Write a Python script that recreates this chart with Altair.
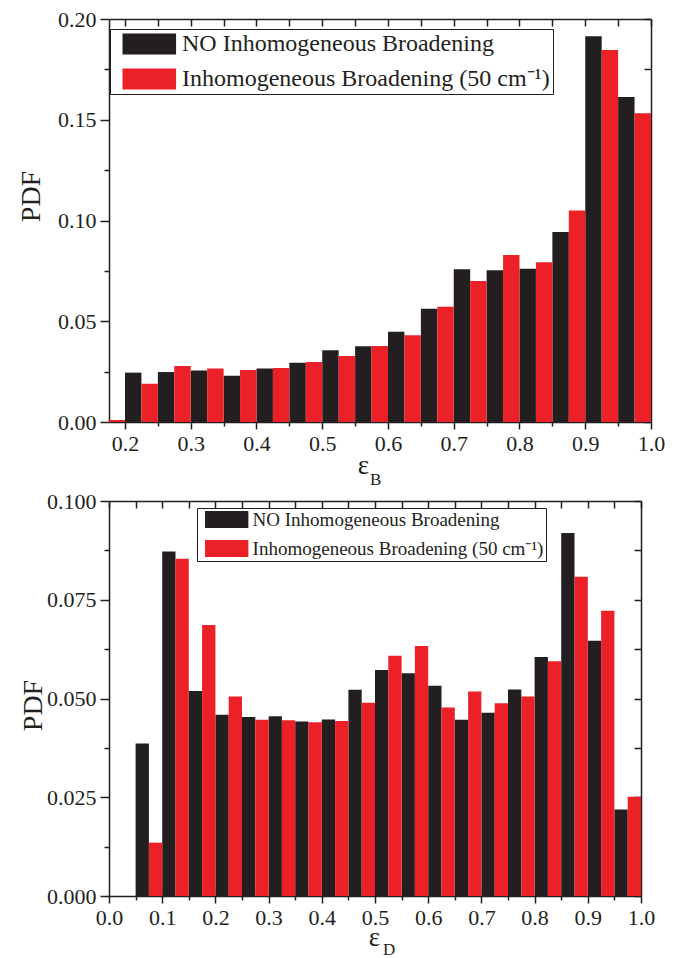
import altair as alt
import pandas as pd

BLACK = "#231f20"
RED = "#ec2027"
FONT = "Liberation Serif"
S1 = "NO Inhomogeneous Broadening"
S2 = "Inhomogeneous Broadening (50 cm⁻¹)"
BIN = 0.025

# ---- top panel (epsilon_B) ----
top_black_left = [0.20, 0.25, 0.30, 0.35, 0.40, 0.45, 0.50, 0.55, 0.60, 0.65,
                  0.70, 0.75, 0.80, 0.85, 0.90, 0.95]
top_black_vals = [0.0245, 0.0248, 0.0255, 0.0230, 0.0265, 0.0294, 0.0356, 0.0376,
                  0.0448, 0.0562, 0.0758, 0.0753, 0.0761, 0.0943, 0.1914, 0.1613]
top_red_left = [0.175, 0.225, 0.275, 0.325, 0.375, 0.425, 0.475, 0.525, 0.575,
                0.625, 0.675, 0.725, 0.775, 0.825, 0.875, 0.925, 0.975]
top_red_vals = [0.0010, 0.0190, 0.0278, 0.0266, 0.0258, 0.0268, 0.0298, 0.0328,
                0.0377, 0.0430, 0.0572, 0.0700, 0.0829, 0.0793, 0.1050, 0.1846, 0.1532]
top_x_ticks = [0.20, 0.25, 0.30, 0.35, 0.40, 0.45, 0.50, 0.55, 0.60, 0.65, 0.70,
               0.75, 0.80, 0.85, 0.90, 0.95, 1.00]
top_y_ticks = [0.0, 0.025, 0.05, 0.075, 0.10, 0.125, 0.15, 0.175, 0.20]

# ---- bottom panel (epsilon_D) ----
bot_black_left = [0.05, 0.10, 0.15, 0.20, 0.25, 0.30, 0.35, 0.40, 0.45, 0.50,
                  0.55, 0.60, 0.65, 0.70, 0.75, 0.80, 0.85, 0.90, 0.95]
bot_black_vals = [0.0386, 0.0872, 0.0519, 0.0459, 0.0453, 0.0455, 0.0442, 0.0447,
                  0.0522, 0.0572, 0.0564, 0.0532, 0.0446, 0.0464, 0.0523, 0.0605,
                  0.0919, 0.0646, 0.0219]
bot_red_left = [0.075, 0.125, 0.175, 0.225, 0.275, 0.325, 0.375, 0.425, 0.475,
                0.525, 0.575, 0.625, 0.675, 0.725, 0.775, 0.825, 0.875, 0.925, 0.975]
bot_red_vals = [0.0135, 0.0854, 0.0686, 0.0505, 0.0446, 0.0445, 0.0440, 0.0443,
                0.0489, 0.0608, 0.0633, 0.0477, 0.0518, 0.0488, 0.0505, 0.0594,
                0.0808, 0.0722, 0.0251]
bot_x_ticks = [0.0, 0.05, 0.10, 0.15, 0.20, 0.25, 0.30, 0.35, 0.40, 0.45, 0.50,
               0.55, 0.60, 0.65, 0.70, 0.75, 0.80, 0.85, 0.90, 0.95, 1.00]
bot_y_ticks = [0.0, 0.0125, 0.025, 0.0375, 0.05, 0.0625, 0.075, 0.0875, 0.10]

SWATCH = "M-2.55,-1H2.55V1H-2.55Z"


def make_df(bl, bv, rl, rv):
    rows = [{"x": l, "x2": l + BIN, "y": v, "s": S1} for l, v in zip(bl, bv)]
    rows += [{"x": l, "x2": l + BIN, "y": v, "s": S2} for l, v in zip(rl, rv)]
    return pd.DataFrame(rows)


def is_major(mult):
    return f"abs(datum.value*{mult} - round(datum.value*{mult})) < 0.001"


def panel(df, W, H, xdom, ydom, xticks, yticks, xmult, ymult, yfmt,
          legend, eps_title_x, eps_title_y, sub_text, sub_x, sub_y, pdf_x, pdf_y):
    xs = alt.Scale(domain=xdom, nice=False, zero=False)
    ys = alt.Scale(domain=ydom, nice=False)
    bars = alt.Chart(df).mark_rect(strokeWidth=0).encode(
        x=alt.X("x:Q", scale=xs, axis=alt.Axis(
            orient="bottom", values=xticks, title="ε",
            labelExpr=f"{is_major(xmult)} ? format(datum.value, '.1f') : ''",
            tickSize={"condition": {"test": is_major(xmult), "value": 7}, "value": 4},
            labelFontSize=22, labelPadding=4, labelFlush=False, labelOverlap=False,
            titleFontSize=27, titleX=eps_title_x, titleY=eps_title_y,
            titleBaseline="alphabetic", titleAlign="center")),
        x2="x2:Q",
        y=alt.Y("y:Q", scale=ys, stack=None, axis=alt.Axis(
            orient="left", values=yticks, title="PDF",
            labelExpr=f"{is_major(ymult)} ? format(datum.value, '{yfmt}') : ''",
            tickSize={"condition": {"test": is_major(ymult), "value": 9}, "value": 5},
            labelFontSize=22, labelPadding=4, labelFlush=False, labelOverlap=False,
            titleFontSize=28, titleX=pdf_x, titleY=pdf_y, titleBaseline="alphabetic",
            titleAlign="center")),
        y2=alt.datum(0),
        color=alt.Color("s:N", scale=alt.Scale(domain=[S1, S2], range=[BLACK, RED]),
                        legend=legend),
    )
    mirror = alt.Chart(df).mark_rect(opacity=0).encode(
        x=alt.X("x:Q", scale=xs, axis=alt.Axis(
            orient="bottom", offset=-H, values=xticks, labels=False, title=None,
            tickSize=7)),
        x2="x2:Q",
        y=alt.Y("y:Q", scale=ys, stack=None, axis=alt.Axis(
            orient="left", offset=-W, values=yticks, labels=False, title=None,
            tickSize=7)),
        y2=alt.datum(0),
    )
    sub = alt.Chart(pd.DataFrame({"t": [sub_text]})).mark_text(
        font=FONT, fontSize=17, color=BLACK, align="left", baseline="alphabetic"
    ).encode(x=alt.value(sub_x), y=alt.value(sub_y), text="t:N")
    return alt.layer(bars, mirror, sub).resolve_axis(
        x="independent", y="independent").properties(width=W, height=H)


top_legend = alt.Legend(
    orient="none", legendX=1, legendY=10, title=None,
    strokeColor=BLACK, fillColor="white", padding=3,
    symbolType=SWATCH, symbolSize=441, symbolOffset=24.3, symbolStrokeWidth=0,
    symbolOpacity=1, labelFont=FONT, labelFontSize=24, labelColor=BLACK,
    labelOffset=20.7, rowPadding=11, labelLimit=1000)
bot_legend = alt.Legend(
    orient="none", legendX=88, legendY=7, title=None,
    strokeColor=BLACK, fillColor="white", padding=2,
    symbolType=SWATCH, symbolSize=289, symbolOffset=18.2, symbolStrokeWidth=0,
    symbolOpacity=1, labelFont=FONT, labelFontSize=19, labelColor=BLACK,
    labelOffset=16.4, rowPadding=9, labelLimit=1000)

top = panel(make_df(top_black_left, top_black_vals, top_red_left, top_red_vals),
            542, 403, [0.1757, 1.0], [0.0, 0.2], top_x_ticks, top_y_ticks,
            10, 20, ".2f", top_legend, 254, 51, "B", 261, 466, -70, 177)
bot = panel(make_df(bot_black_left, bot_black_vals, bot_red_left, bot_red_vals),
            532, 395, [0.0, 1.0], [0.0, 0.1], bot_x_ticks, bot_y_ticks,
            10, 40, ".3f", bot_legend, 265, 49, "D", 274, 454, -68, 204)

chart = alt.concat(top, bot, columns=1, spacing=2, align="none").resolve_scale(
    x="independent", y="independent", color="independent"
).resolve_legend(color="independent").properties(
    padding={"left": 9, "top": 0, "right": 5, "bottom": 0}
).configure_view(stroke=None).configure_axis(
    labelFont=FONT, titleFont=FONT, labelColor=BLACK, titleColor=BLACK,
    domainColor=BLACK, tickColor=BLACK, domainWidth=1.5, tickWidth=1.5,
    titleFontWeight="normal", grid=False
)

chart.save("out.html", embed_options={"renderer": "svg", "actions": False})
